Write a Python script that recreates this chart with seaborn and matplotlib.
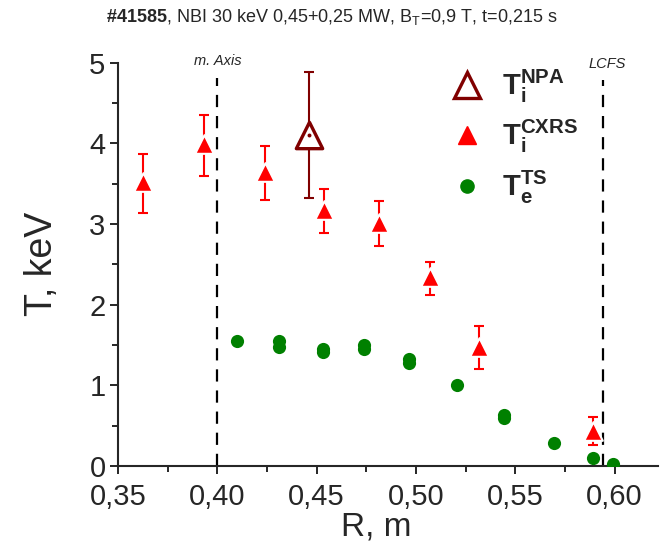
import matplotlib
matplotlib.use("Agg")
import matplotlib.pyplot as plt
import seaborn as sns
import numpy as np
import pandas as pd
from matplotlib.ticker import FuncFormatter, MultipleLocator
from matplotlib.lines import Line2D

# ---- data ----
cxrs_r = [0.3627, 0.3932, 0.4238, 0.4535, 0.4815, 0.507, 0.5315, 0.589]
cxrs_t = [3.52, 3.99, 3.65, 3.17, 3.01, 2.34, 1.48, 0.44]
cxrs_hi = [3.87, 4.35, 3.97, 3.44, 3.28, 2.53, 1.73, 0.61]
cxrs_lo = [3.14, 3.59, 3.30, 2.89, 2.73, 2.12, 1.20, 0.26]

npa_r = [0.446]
npa_t = [4.10]
npa_hi = [4.89]
npa_lo = [3.32]

ts_r = [0.410, 0.431, 0.431, 0.4532, 0.4532, 0.4738, 0.4738, 0.4965, 0.4965,
        0.5205, 0.5443, 0.5443, 0.5693, 0.589, 0.5993]
ts_t = [1.55, 1.55, 1.47, 1.45, 1.41, 1.50, 1.45, 1.33, 1.28,
        1.01, 0.63, 0.59, 0.29, 0.10, 0.03]

axis_r = 0.400
lcfs_r = 0.594

title_bold = "#41585"
title_rest = ", NBI 30 keV 0,45+0,25 MW, B$_\\mathregular{T}$=0,9 T, t=0,215 s"

# ---- style ----
sns.set_style("ticks")
plt.rcParams['font.family'] = ['Liberation Sans', 'DejaVu Sans']
plt.rcParams['mathtext.fontset'] = 'custom'
plt.rcParams['mathtext.rm'] = 'Liberation Sans'
plt.rcParams['mathtext.bf'] = 'Liberation Sans:bold'
plt.rcParams['mathtext.it'] = 'Liberation Sans:italic'

fig = plt.figure(figsize=(6.63, 5.44), dpi=100)
ax = fig.add_axes([0.178, 0.1434, 0.815, 0.7413])

red = '#ff0000'
dred = '#800000'
green = '#008000'

# dashed vertical lines
ax.plot([axis_r, axis_r], [0, 4.81], ls=(0, (5.5, 4)), color='black', lw=1.6, zorder=1)
ax.plot([lcfs_r, lcfs_r], [0, 4.78], ls=(0, (5.5, 4)), color='black', lw=1.6, zorder=1)

cx = np.array(cxrs_t)
ax.errorbar(cxrs_r, cxrs_t,
            yerr=[cx - np.array(cxrs_lo), np.array(cxrs_hi) - cx],
            fmt='none', ecolor=red, elinewidth=1.5, capsize=3.5, capthick=1.5, zorder=2)
nx = np.array(npa_t)
ax.errorbar(npa_r, npa_t,
            yerr=[nx - np.array(npa_lo), np.array(npa_hi) - nx],
            fmt='none', ecolor=dred, elinewidth=1.5, capsize=3.5, capthick=1.5, zorder=2)

df_c = pd.DataFrame({'R': cxrs_r, 'T': cxrs_t})
df_n = pd.DataFrame({'R': npa_r, 'T': npa_t})
df_t = pd.DataFrame({'R': ts_r, 'T': ts_t})

sns.scatterplot(data=df_c, x='R', y='T', marker='^', s=180, color=red,
                edgecolor='white', linewidth=1.5, ax=ax, zorder=3)
sns.scatterplot(data=df_n, x='R', y='T', marker='^', s=360, facecolor='white',
                edgecolor=dred, linewidth=2.4, ax=ax, zorder=3)
sns.scatterplot(data=df_n, x='R', y='T', marker='o', s=8, color=dred,
                linewidth=0, ax=ax, zorder=4)
sns.scatterplot(data=df_t, x='R', y='T', marker='o', s=90, color=green,
                linewidth=0, ax=ax, zorder=3)

ax.set_xlim(0.35, 0.622)
ax.set_ylim(0, 5)
ax.xaxis.set_major_locator(MultipleLocator(0.05))
ax.xaxis.set_minor_locator(MultipleLocator(0.025))
ax.yaxis.set_major_locator(MultipleLocator(1))
ax.yaxis.set_minor_locator(MultipleLocator(0.5))
ax.xaxis.set_major_formatter(FuncFormatter(lambda v, p: f"{v:.2f}".replace('.', ',')))
ax.yaxis.set_major_formatter(FuncFormatter(lambda v, p: f"{v:.0f}"))
ax.tick_params(which='major', length=6, width=1.4, labelsize=21, direction='out', pad=3)
ax.tick_params(axis='x', which='major', pad=6)
ax.tick_params(which='minor', length=4, width=1.4, direction='out')
for s in ['left', 'bottom']:
    ax.spines[s].set_linewidth(1.5)
sns.despine(ax=ax)

ax.set_xlabel('R, m', fontsize=24)
ax.set_ylabel('T, keV', fontsize=27)
ax.xaxis.set_label_coords(0.477, -0.112)
ax.yaxis.set_label_coords(-0.108, 0.5)

ax.text(axis_r, 4.97, 'm. Axis', style='italic', fontsize=10.5, ha='center', va='baseline')
ax.text(0.5965, 4.94, 'LCFS', style='italic', fontsize=10.5, ha='center', va='baseline')

fig.text(0.5, 0.968, r"$\mathbf{\#41585}$" + title_rest, ha='center', va='center',
         fontsize=13)

handles = [
    Line2D([], [], marker='^', ls='none', markersize=19, markerfacecolor='white',
           markeredgecolor=dred, markeredgewidth=2.4),
    Line2D([], [], marker='^', ls='none', markersize=13, color=red),
    Line2D([], [], marker='o', ls='none', markersize=9.5, color=green),
]
labels = [r'$\mathbf{T_i^{NPA}}$', r'$\mathbf{T_i^{CXRS}}$', r'$\mathbf{T_e^{TS}}$']
leg = ax.legend(handles, labels, loc='upper left', bbox_to_anchor=(0.57, 1.016),
                frameon=False, fontsize=21, labelspacing=0.45, handletextpad=0.2,
                borderaxespad=0)

fig.savefig('out.png', dpi=100)
